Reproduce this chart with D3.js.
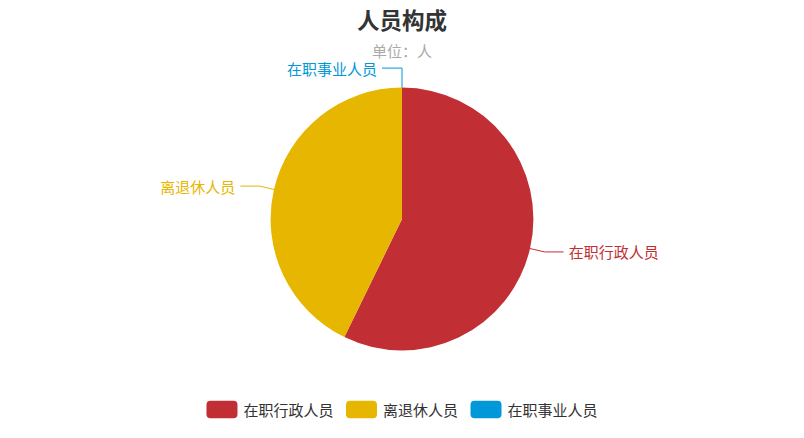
<!DOCTYPE html>
<html>
<head>
<meta charset="utf-8">
<script src="https://cdn.jsdelivr.net/npm/d3@7/dist/d3.min.js"></script>
<style>
  html, body { margin: 0; padding: 0; background: #fff; }
  svg { display: block; font-family: "Noto Sans CJK SC", "Noto Sans", sans-serif; }
</style>
</head>
<body>
<svg id="chart" width="804" height="438"></svg>
<script>
// Staff composition (head counts)
const categories = ["在职行政人员", "离退休人员", "在职事业人员"];
const values = [206, 154, 0];
const colors = ["#c12e34", "#e6b600", "#0098d9"];
const titleText = "人员构成";
const subtitleText = "单位：人";

const W = 804, H = 438;
const cx = 402, cy = 219, R = 131.4;
const svg = d3.select("#chart");

// Title block
svg.append("text")
  .attr("x", cx).attr("y", 19)
  .attr("text-anchor", "middle").attr("dominant-baseline", "central")
  .attr("font-size", 22.5).attr("font-weight", "bold").attr("fill", "#333")
  .text(titleText);
svg.append("text")
  .attr("x", cx).attr("y", 50)
  .attr("text-anchor", "middle").attr("dominant-baseline", "central")
  .attr("font-size", 15).attr("fill", "#aaa")
  .text(subtitleText);

// Pie slices, clockwise from 12 o'clock
const data = categories.map((c, i) => ({ name: c, value: values[i], color: colors[i] }));
const pie = d3.pie().sort(null).value(d => d.value);
const arcs = pie(data);
const arc = d3.arc().innerRadius(0).outerRadius(R);

const g = svg.append("g").attr("transform", `translate(${cx},${cy})`);
g.selectAll("path.slice")
  .data(arcs)
  .join("path")
  .attr("class", "slice")
  .attr("d", arc)
  .attr("fill", d => d.data.color);

// Outside labels with two-segment leader lines
const lineLen = { "在职事业人员": [19.5, 20] };
arcs.forEach(a => {
  const mid = (a.startAngle + a.endAngle) / 2;
  const [l1, l2] = lineLen[a.data.name] || [15, 19];
  const sx = Math.sin(mid), sy = -Math.cos(mid);
  const left = mid >= Math.PI - 1e-9 || sx < -1e-9;
  const p0 = [sx * R, sy * R];
  const p1 = [sx * (R + l1), sy * (R + l1)];
  const p2 = [p1[0] + (left ? -l2 : l2), p1[1]];
  g.append("polyline")
    .attr("points", [p0, p1, p2].map(p => p.join(",")).join(" "))
    .attr("fill", "none")
    .attr("stroke", a.data.color)
    .attr("stroke-width", 1);
  g.append("text")
    .attr("x", p2[0] + (left ? -5 : 5))
    .attr("y", p2[1])
    .attr("text-anchor", left ? "end" : "start")
    .attr("dominant-baseline", "central")
    .attr("font-size", 15)
    .attr("fill", a.data.color)
    .text(a.data.name);
});

// Legend, centred along the bottom
const legend = svg.append("g");
const itemW = 31, itemH = 17.6, textGap = 6, itemGap = 12.5, ly = 409.5;
const items = data.map(d => {
  const it = legend.append("g");
  it.append("rect")
    .attr("width", itemW).attr("height", itemH)
    .attr("rx", 4).attr("ry", 4)
    .attr("y", ly - itemH / 2)
    .attr("fill", d.color);
  const t = it.append("text")
    .attr("x", itemW + textGap).attr("y", ly)
    .attr("dominant-baseline", "central")
    .attr("font-size", 15).attr("fill", "#333")
    .text(d.name);
  return { g: it, w: itemW + textGap + t.node().getComputedTextLength() };
});
const total = d3.sum(items, d => d.w) + itemGap * (items.length - 1);
let x = (W - total) / 2;
items.forEach(it => {
  it.g.attr("transform", `translate(${x},0)`);
  x += it.w + itemGap;
});
</script>
</body>
</html>
